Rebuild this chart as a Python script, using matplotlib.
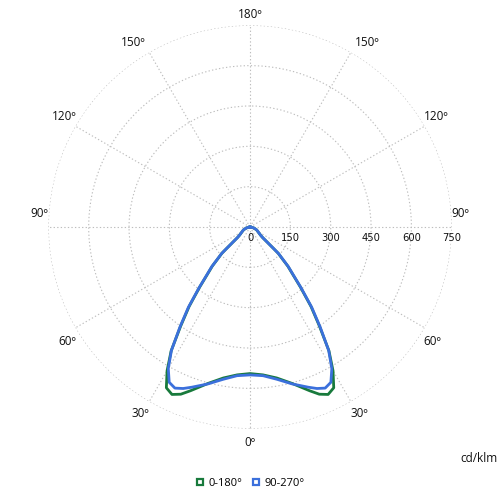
import numpy as np
import matplotlib
matplotlib.use("Agg")
import matplotlib.pyplot as plt
from matplotlib.lines import Line2D

# ---- data ----
angles_deg = [0, 5, 10, 15, 20, 22.5, 25, 27.5, 30, 32.5, 35, 37.5, 40, 42,
              44, 45, 46, 47, 47.5, 48, 48.5, 49, 50, 52, 55, 60, 66, 75, 90, 180]
c0_180 = [545, 552, 570, 602, 648, 673, 687, 674, 617, 546, 450, 372, 291, 238,
          202, 177, 158, 143, 119, 99, 86, 75, 60, 50, 42, 33, 27, 15, 3, 0]
c90_270 = [550, 555, 575, 604, 634, 650, 661, 651, 608, 544, 455, 377, 295, 241,
           205, 180, 160, 145, 120, 100, 87, 76, 61, 50, 42, 34, 27, 15, 3, 0]
series_labels = ["0-180°", "90-270°"]
series_colors = ["#187a3c", "#3b70dc"]
r_ticks = [0, 150, 300, 450, 600, 750]
theta_ticks = [0, 30, 60, 90, 120, 150, 180, 210, 240, 270, 300, 330]
theta_labels = ["0º", "30º", "60º", "90º", "120º", "150º", "180º",
                "150º", "120º", "90º", "60º", "30º"]
unit_label = "cd/klm"

fig = plt.figure(figsize=(5, 5), dpi=100)
ax = fig.add_axes([0.0967, 0.1426, 0.8068, 0.8068], projection="polar")
ax.set_theta_zero_location("S")
ax.set_theta_direction(1)
ax.set_ylim(0, 750)

a = np.array(angles_deg)
full_theta = np.deg2rad(np.concatenate([-a[::-1], a[1:]]))
for vals, col in [(c0_180, series_colors[0]), (c90_270, series_colors[1])]:
    v = np.array(vals, dtype=float)
    full_r = np.concatenate([v[::-1], v[1:]])
    ax.plot(full_theta, full_r, color=col, lw=2, solid_joinstyle="round")

ax.set_thetagrids(theta_ticks, labels=[""] * len(theta_ticks))
ax.set_rgrids(r_ticks[1:], labels=[""] * (len(r_ticks) - 1))
ax.grid(True, color="#bdbdbd", linestyle=(0, (1.2, 2)), linewidth=0.8)
ax.spines["polar"].set_visible(False)
ax.tick_params(length=0)

# radial labels along the east axis, below the line
for r in r_ticks:
    ax.annotate(str(r), xy=(np.deg2rad(90), r), xytext=(0, -11),
                textcoords="offset pixels", ha="center", va="center",
                fontsize=7.2, color="#111111", family="DejaVu Sans")

# angle labels (layout given for the right-hand side, mirrored on the left)
layout = {
    0: ("center", "top", 0, -7),
    30: ("left", "top", 0, -5),
    60: ("left", "top", -1, -7),
    90: ("left", "bottom", 0, 7),
    120: ("left", "bottom", -1, 3),
    150: ("left", "bottom", 4, 3),
    180: ("center", "bottom", 0, 4),
}
for t, lab in zip(theta_ticks, theta_labels):
    base = t if t <= 180 else 360 - t
    ha, va, dx, dy = layout[base]
    if t > 180:
        ha = {"right": "left", "left": "right", "center": "center"}[ha]
        dx = -dx
    ax.annotate(lab, xy=(np.deg2rad(t), 750), xytext=(dx, dy),
                textcoords="offset pixels", ha=ha, va=va, fontsize=8.5,
                color="#111111", family="Open Sans", annotation_clip=False)

fig.text(0.996, 0.082, unit_label, ha="right", va="center", fontsize=8.5,
         family="Open Sans", color="#111111")

handles = [Line2D([], [], ls="none", marker="s", markersize=5,
                  markerfacecolor="white", markeredgecolor=c, markeredgewidth=1.6)
           for c in series_colors]
fig.legend(handles, series_labels, loc="center", bbox_to_anchor=(0.5, 0.034),
           ncol=2, frameon=False, handlelength=0.8,
           handletextpad=0.4, columnspacing=0.8, prop={"family": "Open Sans", "size": 8})

fig.savefig("out.png", dpi=100)
